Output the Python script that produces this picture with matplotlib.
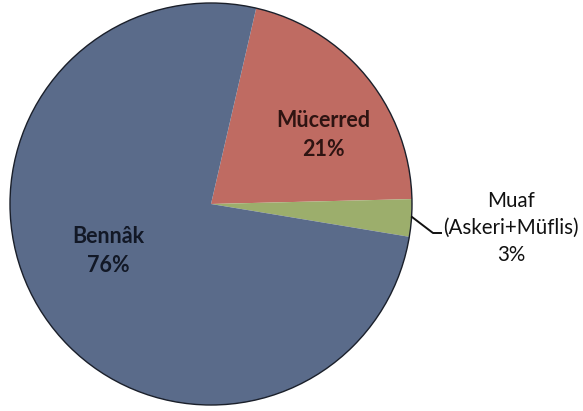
import matplotlib
matplotlib.use("Agg")
import matplotlib.pyplot as plt
from matplotlib.patches import Circle

categories = ["Mücerred", "Muaf", "Bennâk"]
values = [21, 3, 76]
colors = ["#BF6B62", "#9CAE6C", "#5A6B8A"]

W, H = 583, 411
fig = plt.figure(figsize=(W / 100, H / 100), dpi=100)
ax = fig.add_axes([0, 0, 1, 1])

cx, cy, r = 211, 411 - 204, 201
wedges, _ = ax.pie(values, colors=colors, startangle=77, counterclock=False,
                   center=(cx, cy), radius=r, wedgeprops=dict(linewidth=0))
ax.add_patch(Circle((cx, cy), r, fill=False, edgecolor="#1a1f2a", linewidth=1.0))
ax.set_xlim(0, W)
ax.set_ylim(0, H)
ax.set_aspect("equal")
ax.axis("off")

font = "Lato"
ax.text(323, 411 - 135, "Mücerred\n21%", ha="center", va="center", fontsize=15.5,
        family=font, fontweight="bold", color="#2e1412", linespacing=1.45)
ax.text(108, 411 - 251, "Bennâk\n76%", ha="center", va="center", fontsize=15.5,
        family=font, fontweight="bold", color="#121826", linespacing=1.45)
ax.text(511, 411 - 228, "Muaf\n(Askeri+Müflis)\n3%", ha="center", va="center",
        fontsize=14.8, family=font, color="#111111", linespacing=1.45)
ax.plot([412, 433, 441], [411 - 217, 411 - 233, 411 - 233], color="#111111", linewidth=1.4)

fig.savefig("out.png", dpi=100)
